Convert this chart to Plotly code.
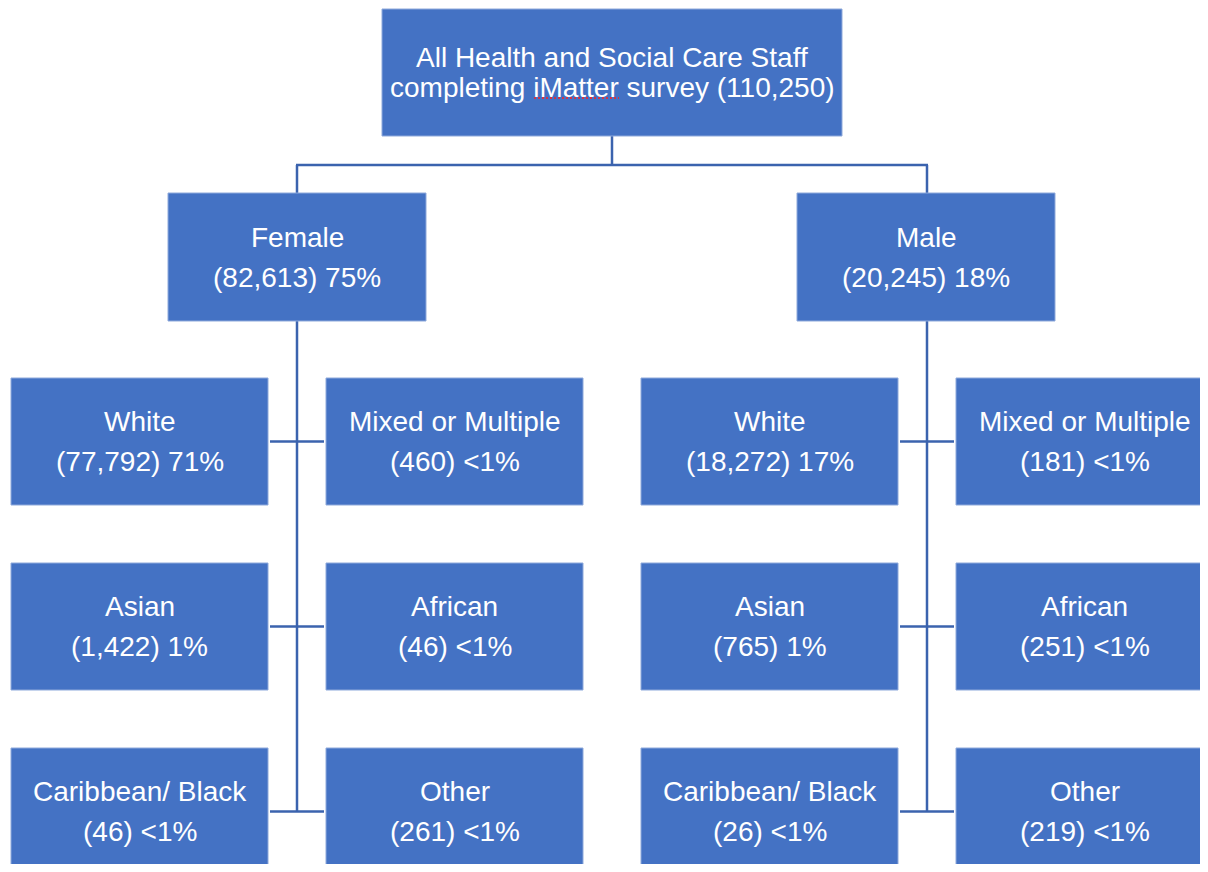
import plotly.graph_objects as go

# ---------------- data ----------------
top_title_line1 = "All Health and Social Care Staff"
top_title_line2 = "completing iMatter survey"
total_staff = 110250

genders = ["Female", "Male"]
gender_counts = [82613, 20245]
gender_pcts = ["75%", "18%"]

ethnicities = ["White", "Mixed or Multiple", "Asian", "African", "Caribbean/ Black", "Other"]
female_counts = [77792, 460, 1422, 46, 46, 261]
female_pcts = ["71%", "<1%", "1%", "<1%", "<1%", "<1%"]
male_counts = [18272, 181, 765, 251, 26, 219]
male_pcts = ["17%", "<1%", "1%", "<1%", "<1%", "<1%"]

# ---------------- layout constants ----------------
W, H = 1208, 872
PAGE_MARGIN = 8  # default browser body margin
FILL = "#4472C4"
EDGE = "#8EA9DB"
LINE = "#3B63AE"
FONT = "Liberation Sans, Arial, sans-serif"
FS = 28

top_box = (382, 9, 842, 136)
gender_boxes = [(168, 193, 426, 321), (797, 193, 1055, 321)]
gender_cx = [297, 927]
child_w = 257
child_h = 127
col_offsets = [-286, 29]  # left edge of left / right child box relative to trunk x
row_tops = [378, 563, 748]

shapes = []
annotations = []


def add_box(x0, y0, x1, y1):
    shapes.append(dict(type="rect", xref="x", yref="y", x0=x0, y0=y0, x1=x1, y1=y1,
                       fillcolor=FILL, line=dict(color=EDGE, width=1), layer="above"))


def add_line(x0, y0, x1, y1, width=2.5, color=LINE, dash=None, layer="below"):
    ln = dict(color=color, width=width)
    if dash:
        ln["dash"] = dash
    shapes.append(dict(type="line", xref="x", yref="y", x0=x0, y0=y0, x1=x1, y1=y1,
                       line=ln, layer=layer))


def add_text(x, y, txt, size=FS):
    annotations.append(dict(x=x, y=y, xref="x", yref="y", text=txt, showarrow=False,
                            font=dict(family=FONT, size=size, color="white"),
                            xanchor="center", yanchor="middle"))


# top box
add_box(*top_box)
tcx = (top_box[0] + top_box[2]) / 2
tcy = (top_box[1] + top_box[3]) / 2
add_text(tcx, tcy - 15, top_title_line1)
add_text(tcx, tcy + 15, f"{top_title_line2} ({total_staff:,})")
# spell-check squiggle under "iMatter"
add_line(534, 98, 619, 98, width=1.6, color="#FF2020", dash="2px,2px", layer="above")

# connectors from top box
bar_y = 165
add_line(tcx, top_box[3], tcx, bar_y)
add_line(gender_cx[0] - 1, bar_y, gender_cx[1] + 1, bar_y)
for cx, gb in zip(gender_cx, gender_boxes):
    add_line(cx, bar_y, cx, gb[1])

# gender boxes and children
child_sets = [(female_counts, female_pcts), (male_counts, male_pcts)]
for gi, (gb, cx) in enumerate(zip(gender_boxes, gender_cx)):
    add_box(*gb)
    gcy = (gb[1] + gb[3]) / 2
    add_text((gb[0] + gb[2]) / 2, gcy - 20, genders[gi])
    add_text((gb[0] + gb[2]) / 2, gcy + 20, f"({gender_counts[gi]:,}) {gender_pcts[gi]}")

    counts, pcts = child_sets[gi]
    last_mid = None
    for r, top in enumerate(row_tops):
        mid = top + child_h / 2
        last_mid = mid
        for c in range(2):
            idx = r * 2 + c
            x0 = cx + col_offsets[c]
            x1 = x0 + child_w
            add_box(x0, top, x1, top + child_h)
            bcx = (x0 + x1) / 2
            add_text(bcx, mid - 20, ethnicities[idx])
            add_text(bcx, mid + 20, f"({counts[idx]:,}) {pcts[idx]}")
        add_line(cx - 27, mid, cx + 27, mid)
    add_line(cx, gb[3], cx, last_mid)

fig = go.Figure()
fig.update_layout(
    width=W - 2 * PAGE_MARGIN, height=H - 2 * PAGE_MARGIN,
    margin=dict(l=0, r=0, t=0, b=0),
    paper_bgcolor="white", plot_bgcolor="white",
    xaxis=dict(range=[PAGE_MARGIN, W - PAGE_MARGIN], visible=False, fixedrange=True),
    yaxis=dict(range=[H - PAGE_MARGIN, PAGE_MARGIN], visible=False, fixedrange=True),
    shapes=shapes,
    annotations=annotations,
    showlegend=False,
)
fig.write_html("out.html")
